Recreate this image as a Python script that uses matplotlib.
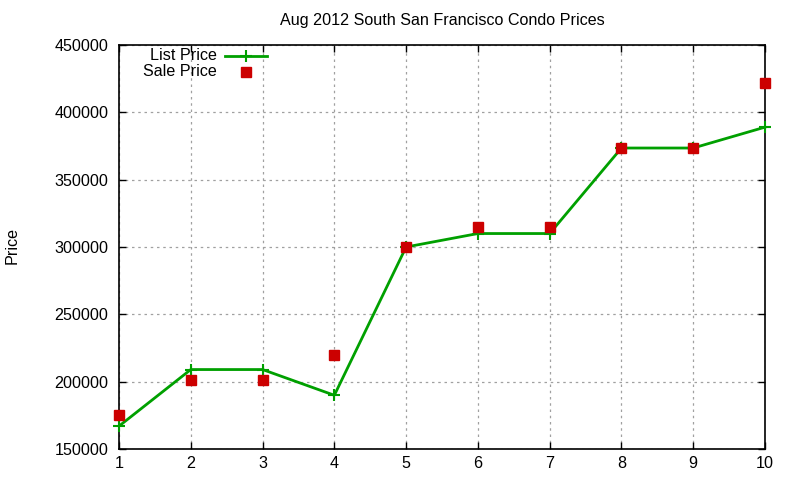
import matplotlib
matplotlib.use("Agg")
import matplotlib.pyplot as plt
from matplotlib.lines import Line2D

x = [1, 2, 3, 4, 5, 6, 7, 8, 9, 10]
list_price = [167000, 209000, 209000, 189900, 300000, 310000, 310000, 373500, 373500, 389000]
sale_price = [175500, 201000, 201000, 220000, 300000, 315000, 315000, 373500, 373500, 422000]
xticks = [1, 2, 3, 4, 5, 6, 7, 8, 9, 10]
yticks = [150000, 200000, 250000, 300000, 350000, 400000, 450000]

plt.rcParams['font.family'] = ['Liberation Sans', 'DejaVu Sans']
fs = 11.6
plt.rcParams['font.size'] = fs

fig = plt.figure(figsize=(8, 4.8), dpi=100)
ax = fig.add_axes([119/800, 1-449/480, (765-119)/800, (449-45)/480])

green = '#00a000'
red = '#cc0000'
ax.plot(x, list_price, color=green, lw=2, marker='+', ms=9, mew=1.5, zorder=3, clip_on=False)
ax.plot(x, sale_price, ls='none', marker='s', ms=7, color=red, zorder=4, clip_on=False)

ax.set_xlim(1, 10)
ax.set_ylim(150000, 450000)
ax.set_xticks(xticks)
ax.set_yticks(yticks)
ax.set_yticklabels([str(v) for v in yticks])
ax.tick_params(direction='in', top=True, right=True, length=5, width=1, labelsize=fs)
ax.tick_params(axis='y', pad=7.5)
ax.tick_params(axis='x', pad=5)
ax.grid(True, color='#a0a0a0', ls=(0, (2, 3)), lw=0.9)
for s in ax.spines.values():
    s.set_linewidth(1.2)

fig.text(442/800, 1-20/480, 'Aug 2012 South San Francisco Condo Prices', ha='center', va='center', fontsize=fs)
fig.text(12/800, 1-246/480, 'Price', rotation=90, ha='center', va='center', fontsize=fs)

# legend (gnuplot style)
fig.text(217/800, 1-56/480, 'List Price', ha='right', va='center', fontsize=fs)
fig.text(217/800, 1-72/480, 'Sale Price', ha='right', va='center', fontsize=fs)
fig.add_artist(Line2D([225/800, 267/800], [1-56/480, 1-56/480], color=green, lw=2))
fig.add_artist(Line2D([246/800], [1-56/480], color=green, marker='+', ms=9, mew=1.5))
fig.add_artist(Line2D([246/800], [1-72/480], color=red, marker='s', ms=7, ls='none'))

fig.savefig('out.png', dpi=100)
